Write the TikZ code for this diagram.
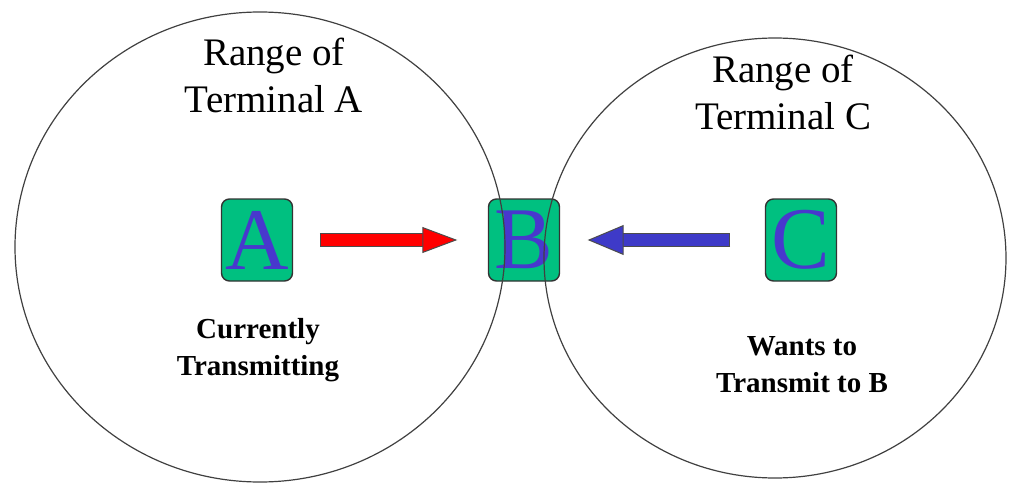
\documentclass[tikz,border=0pt]{standalone}
\usepackage{fontspec}
\setmainfont{Liberation Serif}
\usetikzlibrary{arrows.meta}
\definecolor{termgreen}{RGB}{0,192,128}
\definecolor{letterblue}{RGB}{72,56,205}
\definecolor{arrowblue}{RGB}{62,58,200}

\begin{document}
\begin{tikzpicture}[x=0.5pt, y=-0.5pt,
    terminal/.style={draw=black!80, line width=0.7pt, fill=termgreen,
      rounded corners=4pt, minimum width=35.5pt, minimum height=41pt,
      inner sep=0pt, text=letterblue, font=\fontsize{44}{48}\selectfont},
    rangetext/.style={align=center, font=\fontsize{19.5}{23.5}\selectfont},
    notetext/.style={align=center, font=\bfseries\fontsize{14.5}{18.5}\selectfont},
    rangeline/.style={draw=black!75, line width=0.6pt},
    rim/.style={draw=black!70, line width=6.8pt}]
  \useasboundingbox (0,0) rectangle (1009,487);

  % terminals
  \node[terminal] (A) at (257,240) {A};
  \node[terminal] (B) at (524,240) {B};
  \node[terminal] (C) at (801,240) {C};

  % labels
  \node[rangetext] (rangeA) at (274,75) {Range of\\Terminal A};
  \node[rangetext] (rangeC) at (783,92) {Range of\\Terminal C};
  \node[notetext] (noteA) at (258,350) {Currently\\Transmitting};
  \node[notetext] (noteC) at (802,365) {Wants to\\Transmit to B};

  % A sends to B
  \draw[rim, shorten <=13.35pt, shorten >=31pt] (A.east) -- (B.west);
  \draw[red, line width=6pt, shorten <=13.75pt, shorten >=15.25pt,
    -{Triangle[length=17.5pt, width=13pt, color=black!70, fill=red, line width=0.5pt]}]
    (A.east) -- (B.west);

  % C wants to send to B
  \draw[rim, shorten <=17.35pt, shorten >=30.5pt] (C.west) -- (B.east);
  \draw[arrowblue, line width=6pt, shorten <=17.75pt, shorten >=13.75pt,
    -{Triangle[length=18pt, width=15pt, color=black!70, fill=arrowblue, line width=0.5pt]}]
    (C.west) -- (B.east);

  % ranges
  \draw[rangeline] (260,247) ellipse [x radius=245, y radius=235];
  \draw[rangeline] (775,258) ellipse [x radius=231, y radius=220];
\end{tikzpicture}
\end{document}
